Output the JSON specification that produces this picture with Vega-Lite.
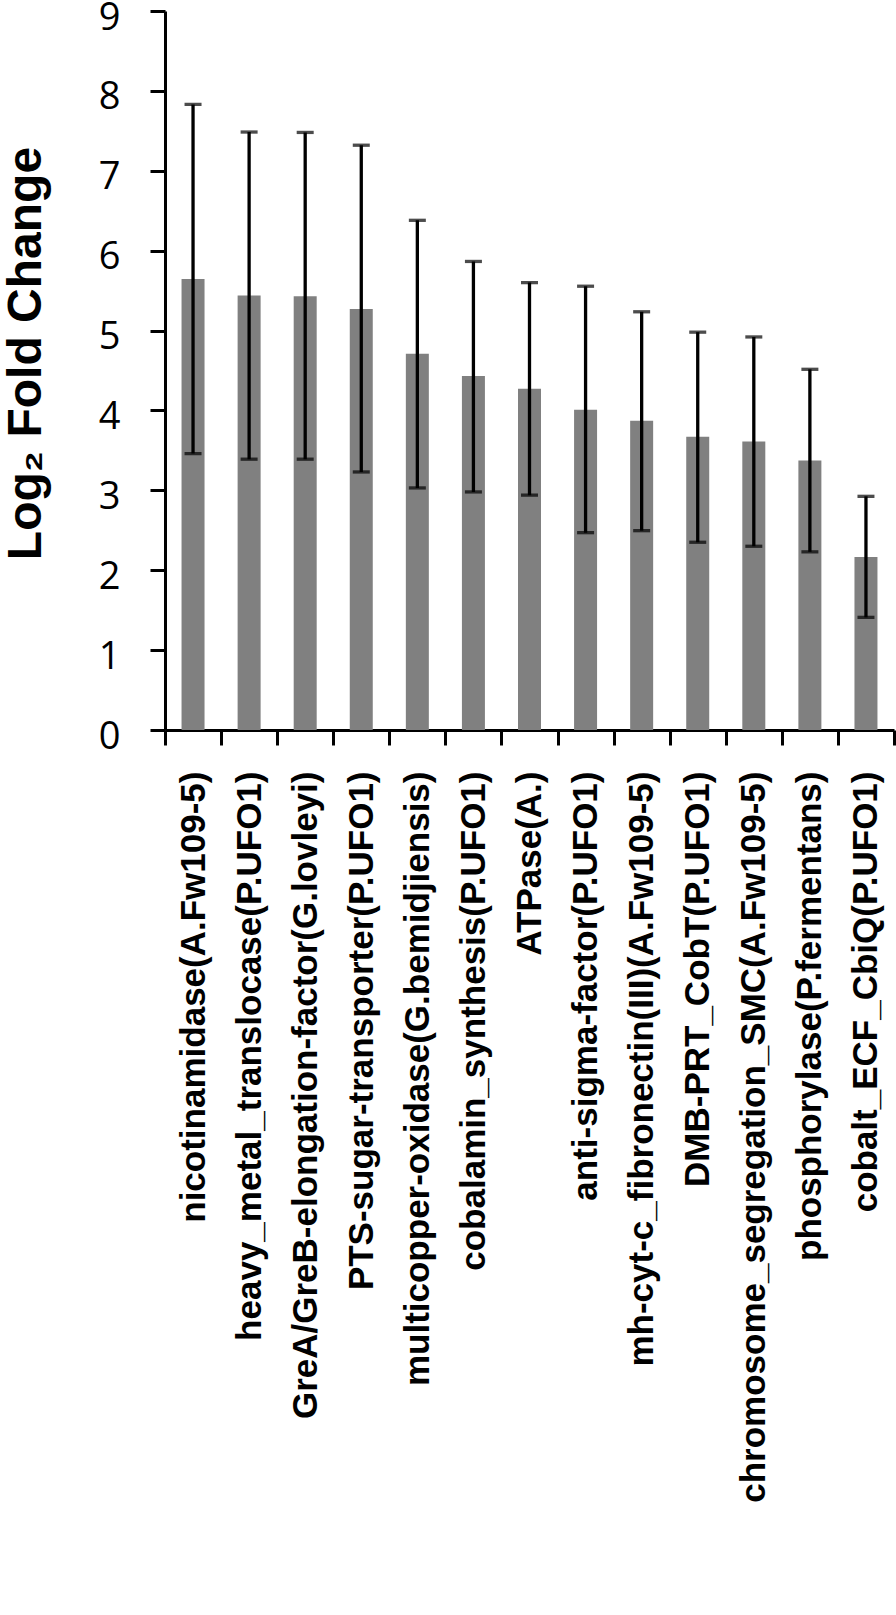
{
  "$schema": "https://vega.github.io/schema/vega-lite/v6.json",
  "autosize": {"type": "none"},
  "padding": {"left": 165, "top": 11, "right": 2, "bottom": 885},
  "width": 729,
  "height": 719,
  "background": "white",
  "config": {"view": {"stroke": null}},
  "data": {
    "values": [
      {"gene": "nicotinamidase(A.Fw109-5)", "value": 5.645, "lo": 3.46, "hi": 7.83},
      {"gene": "heavy_metal_translocase(P.UFO1)", "value": 5.44, "lo": 3.39, "hi": 7.485},
      {"gene": "GreA/GreB-elongation-factor(G.lovleyi)", "value": 5.43, "lo": 3.39, "hi": 7.48},
      {"gene": "PTS-sugar-transporter(P.UFO1)", "value": 5.27, "lo": 3.23, "hi": 7.32},
      {"gene": "multicopper-oxidase(G.bemidjiensis)", "value": 4.71, "lo": 3.03, "hi": 6.38},
      {"gene": "cobalamin_synthesis(P.UFO1)", "value": 4.43, "lo": 2.98, "hi": 5.865},
      {"gene": "ATPase(A.)", "value": 4.27, "lo": 2.94, "hi": 5.6},
      {"gene": "anti-sigma-factor(P.UFO1)", "value": 4.01, "lo": 2.47, "hi": 5.555},
      {"gene": "mh-cyt-c_fibronectin(III)(A.Fw109-5)", "value": 3.87, "lo": 2.495, "hi": 5.235},
      {"gene": "DMB-PRT_CobT(P.UFO1)", "value": 3.67, "lo": 2.35, "hi": 4.98},
      {"gene": "chromosome_segregation_SMC(A.Fw109-5)", "value": 3.61, "lo": 2.3, "hi": 4.92},
      {"gene": "phosphorylase(P.fermentans)", "value": 3.375, "lo": 2.23, "hi": 4.515},
      {"gene": "cobalt_ECF_CbiQ(P.UFO1)", "value": 2.165, "lo": 1.41, "hi": 2.925}
    ]
  },
  "encoding": {
    "x": {
      "field": "gene",
      "type": "nominal",
      "sort": null,
      "scale": {"paddingInner": 0, "paddingOuter": 0},
      "axis": {
        "title": null,
        "tickBand": "extent",
        "domainColor": "black",
        "domainWidth": 3,
        "tickColor": "black",
        "tickWidth": 3,
        "tickSize": 15,
        "labelAngle": -90,
        "labelAlign": "right",
        "labelBaseline": "middle",
        "labelPadding": 26,
        "labelFont": "Liberation Sans",
        "labelFontWeight": "bold",
        "labelFontSize": 35,
        "labelColor": "black",
        "labelLimit": 2000,
        "labelOverlap": false
      }
    }
  },
  "layer": [
    {
      "mark": {"type": "bar", "color": "#808080", "width": 23},
      "encoding": {
        "y": {
          "field": "value",
          "type": "quantitative",
          "scale": {"domain": [0, 9], "nice": false},
          "axis": {
            "title": "Log₂ Fold Change",
            "titleFont": "Liberation Sans",
            "titleFontWeight": "bold",
            "titleFontSize": 48,
            "titleColor": "black",
            "titleAngle": -90,
            "titleAlign": "center",
            "titleBaseline": "alphabetic",
            "titleX": -125,
            "titleY": 342,
            "values": [0, 1, 2, 3, 4, 5, 6, 7, 8, 9],
            "format": "d",
            "grid": false,
            "domainColor": "black",
            "domainWidth": 3,
            "tickColor": "black",
            "tickWidth": 3,
            "tickSize": 15,
            "labelPadding": 30,
            "labelOffset": 7,
            "labelFont": "Open Sans",
            "labelFontSize": 38,
            "labelColor": "black"
          }
        }
      }
    },
    {
      "mark": {"type": "rule", "color": "black", "strokeWidth": 3.3},
      "encoding": {
        "y": {"field": "lo", "type": "quantitative"},
        "y2": {"field": "hi"}
      }
    },
    {
      "mark": {"type": "tick", "color": "black", "thickness": 3.3, "size": 17, "orient": "horizontal"},
      "encoding": {"y": {"field": "lo", "type": "quantitative"}}
    },
    {
      "mark": {"type": "tick", "color": "black", "thickness": 3.3, "size": 17, "orient": "horizontal"},
      "encoding": {"y": {"field": "hi", "type": "quantitative"}}
    }
  ]
}
